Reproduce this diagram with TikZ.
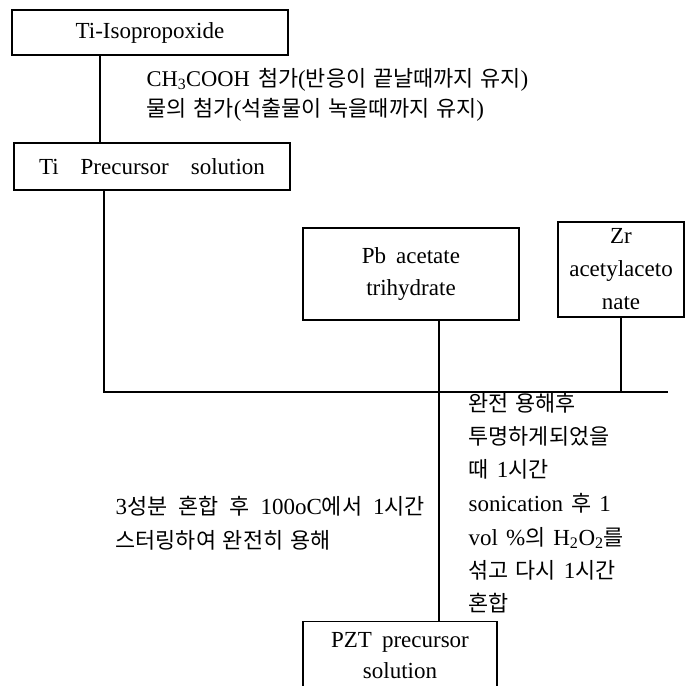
\documentclass[tikz,border=0pt]{standalone}
\usepackage{fontspec}
\setmainfont{Liberation Serif}[WordSpace=1.4]
\newfontfamily\kr[Scale=0.95,WordSpace=1.4]{Noto Sans CJK KR}
\newcommand\hk[1]{{\kr #1}}
\newcommand\wsp{\hspace{11pt}}
\begin{document}
\begin{tikzpicture}[x=1pt,y=-1pt,line width=1.2pt,
  box/.style={draw,inner xsep=0pt,inner ysep=0pt,align=center},
  txt/.style={anchor=west,inner sep=0pt,text height=17pt,text depth=5pt,font=\fontsize{23}{28}\selectfont}]
\useasboundingbox (0,0) rectangle (693,685);
\clip (0,0) rectangle (693,685);
% boxes
\node[box,minimum width=276pt,minimum height=45pt,font=\fontsize{23}{28}\selectfont] (tiiso) at (150,32.5) {Ti-Isopropoxide};
\node[box,minimum width=276pt,minimum height=47pt,font=\fontsize{23}{28}\selectfont] (tipre) at (152,166.5) {Ti\hspace{22pt}Precursor\hspace{22pt}solution};
\node[box,minimum width=216pt,minimum height=92pt,font=\fontsize{23}{32}\selectfont] (pb) at (411,274) {Pb\hspace{10pt}acetate\\trihydrate};
\node[box,minimum width=126pt,minimum height=95pt,font=\fontsize{23}{33}\selectfont] (zr) at (621,269.5) {Zr\\acetylaceto\\nate};
\node[box,minimum width=194pt,inner ysep=11pt,font=\fontsize{23}{31}\selectfont] (pzt) at (400,656) {PZT\hspace{10pt}precursor\\solution};
% coordinates
\coordinate (c1) at (100,0);
\coordinate (jL) at (104,392);
\coordinate (jR) at (668,392);
\coordinate (pbx) at (439,0);
% connectors
\draw (tiiso.south -| c1) -- (tipre.north -| c1);
\draw (tipre.south -| jL) -- (jL) -- (jR);
\draw (pb.south -| pbx) -- (pzt.north -| pbx);
\draw (zr.south) -- (zr.south |- jL);
% texts
\node[txt] (t1) at (146,80) {{\fontsize{22.5}{28}\selectfont CH\textsubscript{3}COOH} \hk{첨가}(\hk{반응이 끝날때까지 유지})};
\node[txt] (t2) at (146,110) {\hk{물의 첨가}(\hk{석출물이 녹을때까지 유지})};
\node[txt] (l1) at (115,508) {3\hk{성분}\wsp\hk{혼합}\wsp\hk{후}\wsp100oC\hk{에서}\wsp1\hk{시간}};
\node[txt] (l2) at (115,542) {\hk{스터링하여 완전히 용해}};
\node[txt] (r1) at (468,405) {\hk{완전 용해후}};
\node[txt] (r2) at (468,438) {\hk{투명하게되었을}};
\node[txt] (r3) at (468,471) {\hk{때} 1\hk{시간}};
\node[txt] (r4) at (468,505) {sonication \hk{후} 1};
\node[txt] (r5) at (468,539) {vol \%\hk{의} H\textsubscript{2}O\textsubscript{2}\hk{를}};
\node[txt] (r6) at (468,572) {\hk{섞고 다시} 1\hk{시간}};
\node[txt] (r7) at (468,605) {\hk{혼합}};
\end{tikzpicture}
\end{document}
